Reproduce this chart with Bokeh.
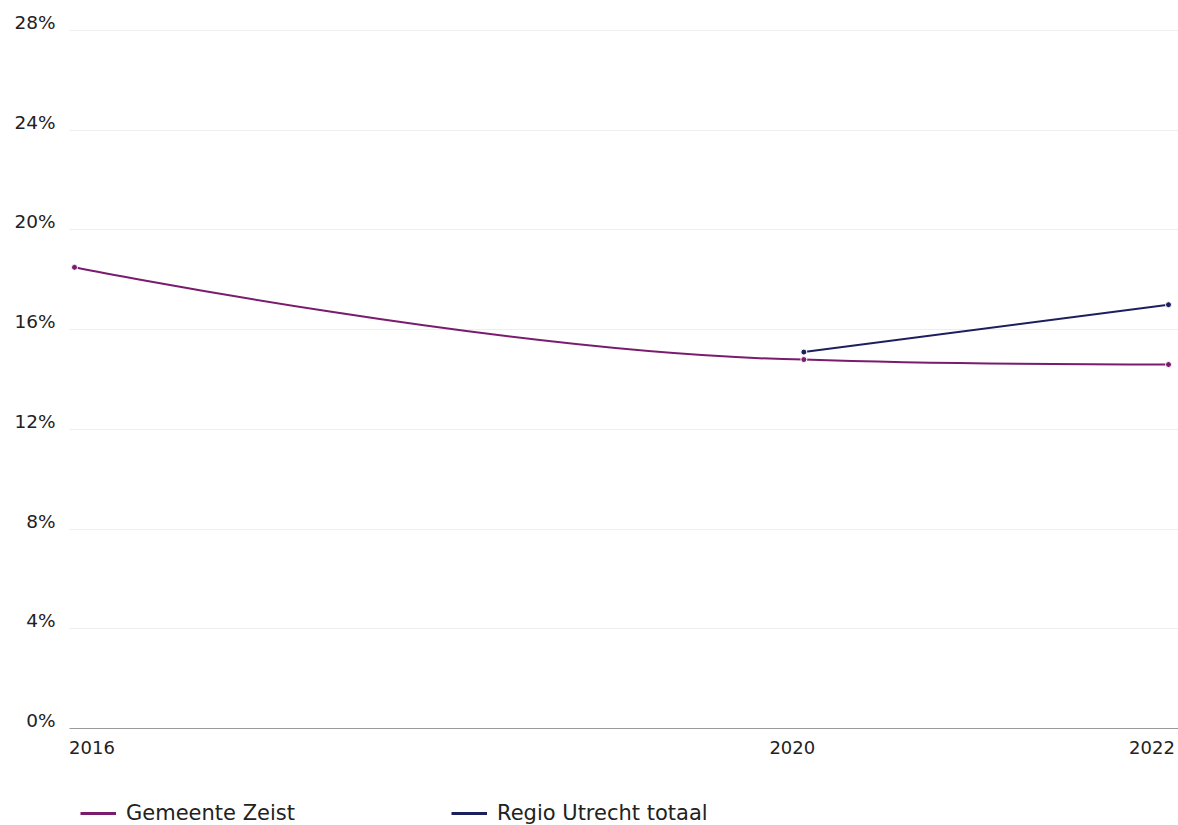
from bokeh.plotting import figure
from bokeh.layouts import column
from bokeh.models import (ColumnDataSource, Range1d, FixedTicker, CustomJSTickFormatter,
                          Legend, LegendItem)
from bokeh.embed import file_html
from bokeh.resources import INLINE

# ---- data ----
year_ticks = [2016, 2020, 2022]
year_labels = ["2016", "2020", "2022"]
zeist_years = [2016, 2020, 2022]
zeist_values = [18.5, 14.8, 14.6]
regio_years = [2020, 2022]
regio_values = [15.1, 17.0]
y_ticks = [0, 4, 8, 12, 16, 20, 24, 28]
series_names = ["Gemeente Zeist", "Regio Utrecht totaal"]
series_colors = ["#7a1b6e", "#1c1f5e"]

FONT = "DejaVu Sans"
TEXT = "#222222"


def spline_segments(xs, ys, smoothing=1.5):
    """Bezier control points of a smooth curve through the data points."""
    n = len(xs)
    left = [(x, y) for x, y in zip(xs, ys)]
    right = [(x, y) for x, y in zip(xs, ys)]
    d = smoothing + 1
    for i in range(1, n - 1):
        x, y = xs[i], ys[i]
        lx, ly = xs[i - 1], ys[i - 1]
        nx, ny = xs[i + 1], ys[i + 1]
        lcx = (smoothing * x + lx) / d
        lcy = (smoothing * y + ly) / d
        rcx = (smoothing * x + nx) / d
        rcy = (smoothing * y + ny) / d
        if rcx != lcx:
            corr = ((rcy - lcy) * (rcx - x)) / (rcx - lcx) + y - rcy
            lcy += corr
            rcy += corr
        if lcy > ly and lcy > y:
            lcy = max(ly, y); rcy = 2 * y - lcy
        elif lcy < ly and lcy < y:
            lcy = min(ly, y); rcy = 2 * y - lcy
        if rcy > ny and rcy > y:
            rcy = max(ny, y); lcy = 2 * y - rcy
        elif rcy < ny and rcy < y:
            rcy = min(ny, y); lcy = 2 * y - rcy
        left[i] = (lcx, lcy)
        right[i] = (rcx, rcy)
    segs = dict(x0=[], y0=[], x1=[], y1=[], cx0=[], cy0=[], cx1=[], cy1=[])
    for i in range(n - 1):
        segs["x0"].append(xs[i]); segs["y0"].append(ys[i])
        segs["x1"].append(xs[i + 1]); segs["y1"].append(ys[i + 1])
        segs["cx0"].append(right[i][0]); segs["cy0"].append(right[i][1])
        segs["cx1"].append(left[i + 1][0]); segs["cy1"].append(left[i + 1][1])
    return segs


# ---- layout geometry (pixels) ----
W = 1178
H1, H2 = 765, 60
frame_left = 69
frame_w = W - frame_left
frame_bottom_px = 728
px_per_year = 1094 / 6.0
x_start = year_ticks[0] - 5 / px_per_year
x_end = x_start + frame_w / px_per_year
px_per_pct = 698 / 28.0
y_top_pad_px = 10
y_end = y_ticks[-1] + y_top_pad_px / px_per_pct
frame_top = 30 - y_top_pad_px

p = figure(width=W, height=H1, x_range=Range1d(x_start, x_end), y_range=Range1d(0, y_end),
           output_backend="svg", toolbar_location=None,
           min_border_left=frame_left, min_border_right=0,
           min_border_top=frame_top, min_border_bottom=H1 - frame_bottom_px)
p.outline_line_color = None
p.background_fill_color = "white"
p.border_fill_color = "white"

# y axis: labels sit just above their gridline
label_lift_px = 8
p.yaxis.ticker = FixedTicker(ticks=[t + label_lift_px / px_per_pct for t in y_ticks])
p.yaxis.formatter = CustomJSTickFormatter(code="return Math.round(tick) + '%';")
p.yaxis.axis_line_color = None
p.yaxis.major_tick_line_color = None
p.yaxis.minor_tick_line_color = None
p.yaxis.major_tick_out = 0
p.yaxis.major_tick_in = 0
p.yaxis.major_label_standoff = 14
p.yaxis.major_label_text_font = FONT
p.yaxis.major_label_text_font_size = "18.5px"
p.yaxis.major_label_text_color = TEXT

# x axis: labels nudged so the outer ones stay inside the plot
label_shift_px = [17.5, -11.5, -16.5]
p.xaxis.ticker = FixedTicker(ticks=[t + s / px_per_year for t, s in zip(year_ticks, label_shift_px)])
p.xaxis.formatter = CustomJSTickFormatter(code="return String(Math.round(tick));")
p.xaxis.axis_line_color = "#999999"
p.xaxis.axis_line_width = 1
p.xaxis.major_tick_line_color = None
p.xaxis.minor_tick_line_color = None
p.xaxis.major_tick_out = 0
p.xaxis.major_tick_in = 0
p.xaxis.major_label_standoff = 12
p.xaxis.major_label_text_font = FONT
p.xaxis.major_label_text_font_size = "18px"
p.xaxis.major_label_text_color = TEXT

p.xgrid.grid_line_color = None
p.ygrid.ticker = FixedTicker(ticks=y_ticks)
p.ygrid.grid_line_color = "#eeeeee"
p.ygrid.grid_line_width = 1

series = [(series_names[0], zeist_years, zeist_values, series_colors[0]),
          (series_names[1], regio_years, regio_values, series_colors[1])]

for name, xs, ys, color in series:
    src = ColumnDataSource(spline_segments(xs, ys))
    p.bezier(x0="x0", y0="y0", x1="x1", y1="y1", cx0="cx0", cy0="cy0", cx1="cx1", cy1="cy1",
             source=src, line_color=color, line_width=2)
    p.scatter(xs, ys, size=6, fill_color=color, line_color="white", line_width=1)

# legend strip below the chart (its proxy lines fall outside its own ranges)
lg = figure(width=W, height=H2, x_range=Range1d(0, 1), y_range=Range1d(0, 1),
            output_backend="svg", toolbar_location=None, x_axis_type=None, y_axis_type=None,
            min_border=0, min_border_left=0, min_border_right=0, min_border_top=0,
            min_border_bottom=0)
lg.outline_line_color = None
lg.xgrid.visible = False
lg.ygrid.visible = False
items = []
for name, xs, ys, color in series:
    proxy = lg.line(x=xs, y=ys, line_color=color, line_width=3)
    items.append(LegendItem(label=name, renderers=[proxy]))

legend = Legend(items=items, orientation="horizontal", location=(80 - frame_left, 0),
                glyph_width=36, glyph_height=20, label_standoff=10, label_width=325,
                spacing=0, padding=0, margin=0, border_line_color=None,
                background_fill_alpha=0, label_text_font=FONT,
                label_text_font_size="21px", label_text_color=TEXT)
lg.add_layout(legend)

layout = column(p, lg, spacing=0)
open("out.html", "w").write(file_html(layout, INLINE))
